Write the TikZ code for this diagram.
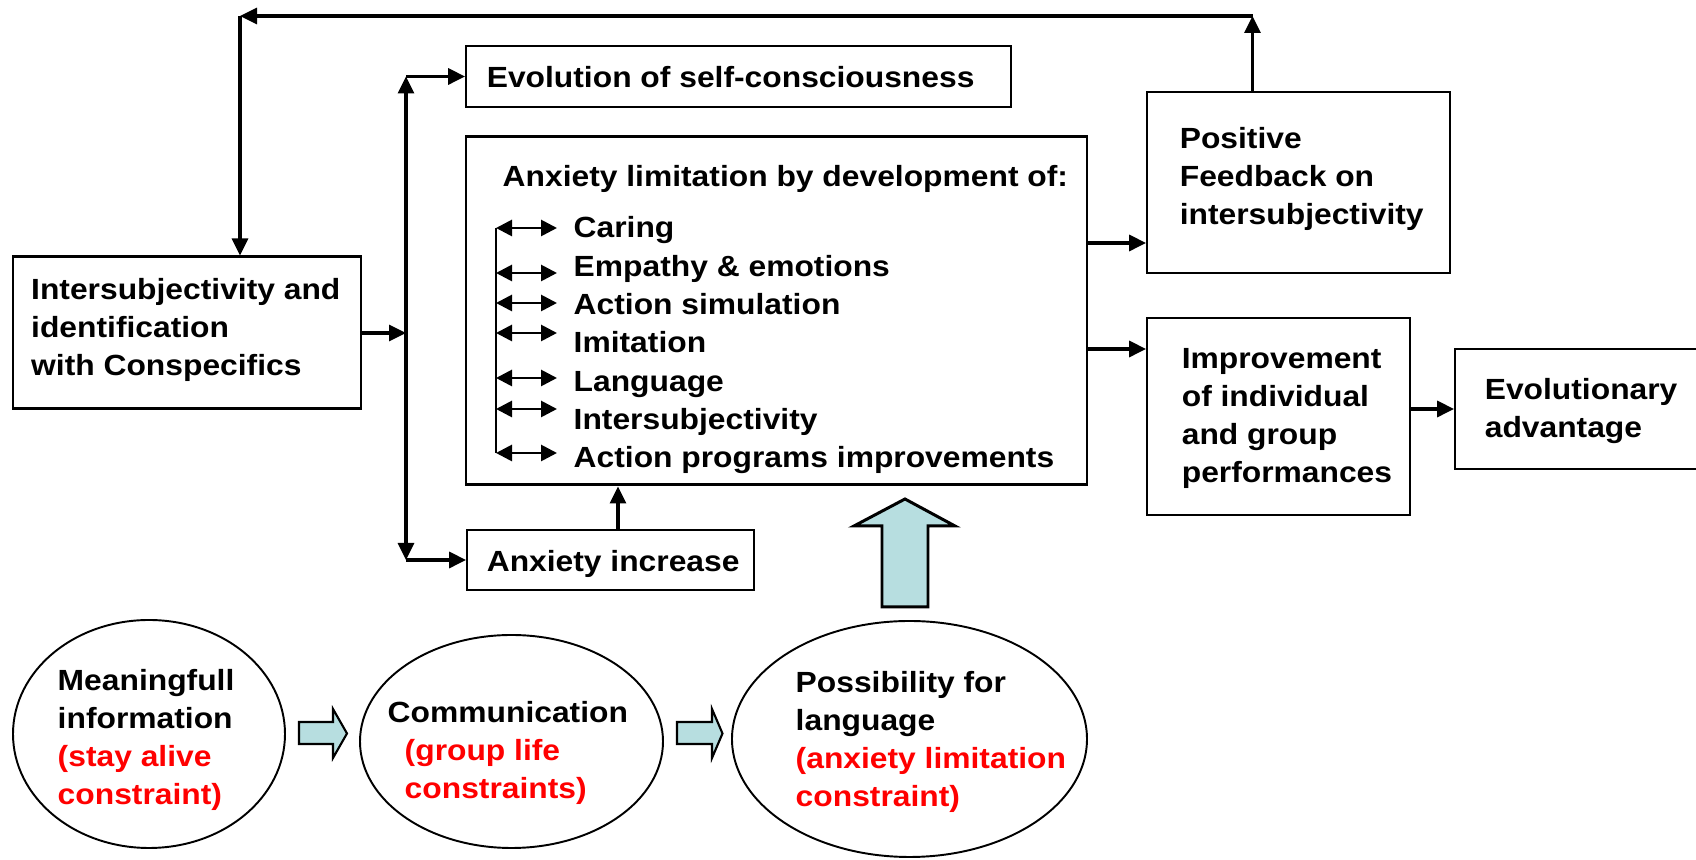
\documentclass[tikz,border=0pt]{standalone}
\usepackage{fontspec}
\setmainfont{Liberation Sans}[FakeStretch=1.09]
\usepackage{tikz}
\usetikzlibrary{arrows.meta,shapes.geometric}
\definecolor{paleblue}{RGB}{183,222,224}

\begin{document}
\begin{tikzpicture}[
  font=\bfseries\fontsize{8.3}{10.85}\selectfont,
  thickbox/.style={draw, line width=0.85pt, inner sep=0pt},
  thinbox/.style={draw, line width=0.5pt, inner sep=0pt},
  boxtext/.style={anchor=west, align=left, inner sep=0pt},
  itemtext/.style={anchor=base west, inner sep=0pt},
  oval/.style={draw, ellipse, line width=0.55pt, inner sep=0pt},
  conn/.style={line width=0.9pt, -{Triangle[length=1.7mm,width=1.6mm]}},
  busline/.style={line width=0.9pt, {Triangle[length=1.7mm,width=1.6mm]}-{Triangle[length=1.7mm,width=1.6mm]}},
  twoway/.style={line width=0.8pt, {Triangle[length=1.6mm,width=1.6mm]}-{Triangle[length=1.6mm,width=1.6mm]}},
  blockarrow/.style={draw, fill=paleblue, line width=0.85pt, line join=miter},
]
\clip (0,0) rectangle (16.96,8.60);

\node[thickbox, minimum width=3.48cm, minimum height=1.52cm] (isc) at (1.87,5.27) {};
\node[boxtext] (isctext) at ([xshift=0.19cm,yshift=0.03cm]isc.west) {Intersubjectivity and\\identification\\with Conspecifics};

\node[thinbox, minimum width=5.45cm, minimum height=0.61cm] (evol) at (7.385,7.835) {};
\node[boxtext] (evoltext) at ([xshift=0.21cm,yshift=-0.01cm]evol.west) {Evolution of self-consciousness};

\node[thickbox, minimum width=6.21cm, minimum height=3.48cm] (anx) at (7.765,5.49) {};
\node[itemtext] (anxtitle) at (5.02,6.73) {Anxiety limitation by development of:};
\foreach \lbl [count=\i] in {Caring, Empathy \& emotions, Action simulation, Imitation, Language, Intersubjectivity, Action programs improvements}
  \node[itemtext] (item\i) at (5.73,{6.6033-0.3833*\i}) {\lbl};
\foreach \y [count=\i] in {2.28,2.73,3.03,3.33,3.78,4.09,4.53} {
  \coordinate (al\i) at (4.96,{8.60-\y});
  \coordinate (ar\i) at (5.57,{8.60-\y});
  \draw[twoway] (al\i) -- (ar\i);
}
\draw[line width=0.8pt] (al1) -- (al7);

\node[thinbox, minimum width=2.87cm, minimum height=0.60cm] (incr) at (6.105,3.00) {};
\node[boxtext] (incrtext) at ([xshift=0.20cm,yshift=-0.04cm]incr.west) {Anxiety increase};

\node[thinbox, minimum width=3.03cm, minimum height=1.81cm] (pf) at (12.985,6.775) {};
\node[boxtext] (pftext) at ([xshift=0.33cm,yshift=0.035cm]pf.west) {Positive\\Feedback on\\intersubjectivity};

\node[thinbox, minimum width=2.63cm, minimum height=1.97cm] (impr) at (12.785,4.435) {};
\node[boxtext] (imprtext) at ([xshift=0.35cm,yshift=-0.02cm]impr.west) {Improvement\\of individual\\and group\\performances};

\node[thinbox, minimum width=2.80cm, minimum height=1.20cm] (evo) at (15.95,4.51) {};
\node[boxtext] (evotext) at ([xshift=0.30cm,yshift=-0.02cm]evo.west) {Evolutionary\\advantage};

\node[oval, minimum width=2.72cm, minimum height=2.28cm] (e1) at (1.49,1.26) {};
\node[boxtext] (e1text) at ([xshift=0.45cm,yshift=-0.06cm]e1.west) {Meaningfull\\information\\\textcolor{red}{(stay alive}\\\textcolor{red}{constraint)}};
\node[oval, minimum width=3.03cm, minimum height=2.13cm] (e2) at (5.115,1.185) {};
\node[boxtext] (e2text) at ([xshift=0.28cm,yshift=-0.115cm]e2.west) {Communication\\\hspace*{0.17cm}\textcolor{red}{(group life}\\\hspace*{0.17cm}\textcolor{red}{constraints)}};
\node[oval, minimum width=3.55cm, minimum height=2.36cm] (e3) at (9.095,1.21) {};
\node[boxtext] (e3text) at ([xshift=0.64cm,yshift=-0.03cm]e3.west) {Possibility for\\language\\\textcolor{red}{(anxiety limitation}\\\textcolor{red}{constraint)}};

\coordinate (fbtop) at (12.525,8.44);
\coordinate (fbleft) at (2.40,8.44);
\draw[conn] (pf.north -| fbtop) -- (fbtop);
\draw[conn] (fbtop) -- (fbleft);
\draw[conn] (fbleft) -- (isc.north -| fbleft);

\coordinate (bustop) at (4.06,7.835);
\coordinate (busbot) at (4.06,3.00);
\draw[conn] (isc.east) -- (isc.east -| bustop);
\draw[busline] (bustop) -- (busbot);
\draw[conn] (bustop) -- (evol.west);
\draw[conn] (busbot) -- (incr.west);
\draw[conn] ([xshift=0.075cm]incr.north) -- ([xshift=0.075cm]incr.north |- anx.south);

\draw[conn] ([yshift=0.68cm]anx.east) -- ([yshift=0.68cm]anx.east -| pf.west);
\draw[conn] ([yshift=-0.38cm]anx.east) -- ([yshift=-0.38cm]anx.east -| impr.west);
\draw[conn] (impr.east |- evo.west) -- (evo.west);

\draw[blockarrow] (8.82,2.53) -- (9.28,2.53) -- (9.28,3.34) -- (9.55,3.34) -- (9.05,3.61) -- (8.54,3.34) -- (8.82,3.34) -- cycle;
\draw[blockarrow, line width=0.6pt] (2.99,1.16) -- (3.33,1.16) -- (3.33,1.02) -- (3.47,1.265) -- (3.33,1.51) -- (3.33,1.38) -- (2.99,1.38) -- cycle;
\draw[blockarrow, line width=0.6pt] (6.77,1.16) -- (7.12,1.16) -- (7.12,1.02) -- (7.225,1.265) -- (7.12,1.51) -- (7.12,1.38) -- (6.77,1.38) -- cycle;
\end{tikzpicture}
\end{document}
